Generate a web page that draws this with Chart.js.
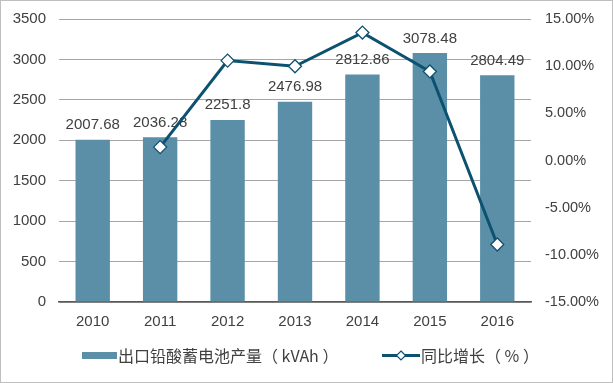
<!DOCTYPE html>
<html>
<head>
<meta charset="utf-8">
<script src="https://cdn.jsdelivr.net/npm/chart.js@4.4.1/dist/chart.umd.min.js"></script>
<style>
html,body{margin:0;padding:0;background:#fff;}
#wrap{width:613px;height:383px;position:relative;}
</style>
</head>
<body>
<div id="wrap"><canvas id="c" width="613" height="383"></canvas></div>
<script>
const categories = ['2010','2011','2012','2013','2014','2015','2016'];
const exportOutput = [2007.68, 2036.28, 2251.8, 2476.98, 2812.86, 3078.48, 2804.49];
const yoyGrowth = [null, 0.0142, 0.1059, 0.0999, 0.1356, 0.0944, -0.0890];
const barLabel = '出口铅酸蓄电池产量（ kVAh ）';
const lineLabel = '同比增长（ % ）';

const BAR = '#5b8fa7';
const LINE = '#0c5170';
const FONT = '"Liberation Sans", Arial, sans-serif';
const CJK = '"Noto Sans CJK SC", "Liberation Sans", sans-serif';

const deco = {
  id: 'deco',
  beforeDraw(chart) {
    const ctx = chart.ctx;
    ctx.save();
    ctx.fillStyle = '#fff';
    ctx.fillRect(0, 0, chart.width, chart.height);
    ctx.restore();
  },
  afterDatasetDraw(chart, args) {
    if (args.index !== 1) return;
    const ctx = chart.ctx;
    const meta = chart.getDatasetMeta(1);
    ctx.save();
    ctx.font = '15px ' + FONT;
    ctx.fillStyle = '#404040';
    ctx.textAlign = 'center';
    ctx.textBaseline = 'alphabetic';
    meta.data.forEach((bar, i) => {
      ctx.fillText(String(exportOutput[i]), bar.x, bar.y - 10.5);
    });
    ctx.restore();
  },
  afterDraw(chart) {
    const ctx = chart.ctx;
    ctx.save();
    ctx.fillStyle = BAR;
    ctx.fillRect(82, 352, 35, 7);
    ctx.font = '16px ' + CJK;
    ctx.fillStyle = '#404040';
    ctx.textBaseline = 'middle';
    ctx.textAlign = 'left';
    ctx.fillText(barLabel, 118, 356);
    ctx.strokeStyle = LINE;
    ctx.lineWidth = 3;
    ctx.beginPath();
    ctx.moveTo(382, 355.5);
    ctx.lineTo(420, 355.5);
    ctx.stroke();
    ctx.fillStyle = '#fff';
    ctx.lineWidth = 1.2;
    ctx.beginPath();
    const cx = 401, cy = 355.5, r = 4.5;
    ctx.moveTo(cx, cy - r); ctx.lineTo(cx + r, cy); ctx.lineTo(cx, cy + r); ctx.lineTo(cx - r, cy); ctx.closePath();
    ctx.fill(); ctx.stroke();
    ctx.fillStyle = '#404040';
    ctx.fillText(lineLabel, 421, 356);
    ctx.strokeStyle = '#bfbfbf';
    ctx.lineWidth = 1;
    ctx.strokeRect(0.5, 0.5, chart.width - 1, chart.height - 1);
    ctx.restore();
  }
};

function fitV(w) {
  return function (s) { s.width = w; s.paddingTop = 0; s.paddingBottom = 0; };
}

new Chart(document.getElementById('c'), {
  data: {
    labels: categories,
    datasets: [
      {
        type: 'line',
        label: lineLabel,
        data: yoyGrowth,
        yAxisID: 'y1',
        borderColor: LINE,
        borderWidth: 3,
        pointStyle: 'rectRot',
        pointRadius: 6.5,
        pointBackgroundColor: '#fff',
        pointBorderColor: LINE,
        pointBorderWidth: 1.3,
        tension: 0,
        order: 0
      },
      {
        type: 'bar',
        label: barLabel,
        data: exportOutput,
        yAxisID: 'y',
        backgroundColor: BAR,
        barPercentage: 0.51,
        categoryPercentage: 1,
        order: 1
      }
    ]
  },
  options: {
    responsive: false,
    animation: false,
    devicePixelRatio: 1,
    layout: { padding: { top: 19, left: 0, right: 0, bottom: 0 } },
    plugins: { legend: { display: false }, tooltip: { enabled: false } },
    scales: {
      x: {
        grid: { display: false, drawTicks: false },
        border: { display: true, color: '#595959', width: 1.5 },
        ticks: { color: '#404040', font: { size: 15, family: FONT }, padding: 11 },
        afterFit(s) { s.height = 81; s.paddingLeft = 0; s.paddingRight = 0; }
      },
      y: {
        position: 'left',
        min: 0, max: 3500,
        ticks: { stepSize: 500, color: '#404040', font: { size: 15, family: FONT }, padding: 13,
          callback: v => String(v) },
        grid: { color: '#a6a6a6', lineWidth: 1, drawTicks: false },
        border: { display: false },
        afterFit: fitV(59)
      },
      y1: {
        position: 'right',
        min: -0.15, max: 0.15,
        ticks: {
          stepSize: 0.05, color: '#404040', font: { size: 14.5, family: FONT }, padding: 14,
          callback: v => (v * 100).toFixed(2) + '%'
        },
        grid: { display: false, drawTicks: false },
        border: { display: false },
        afterFit: fitV(82)
      }
    }
  },
  plugins: [deco]
});
</script>
</body>
</html>
